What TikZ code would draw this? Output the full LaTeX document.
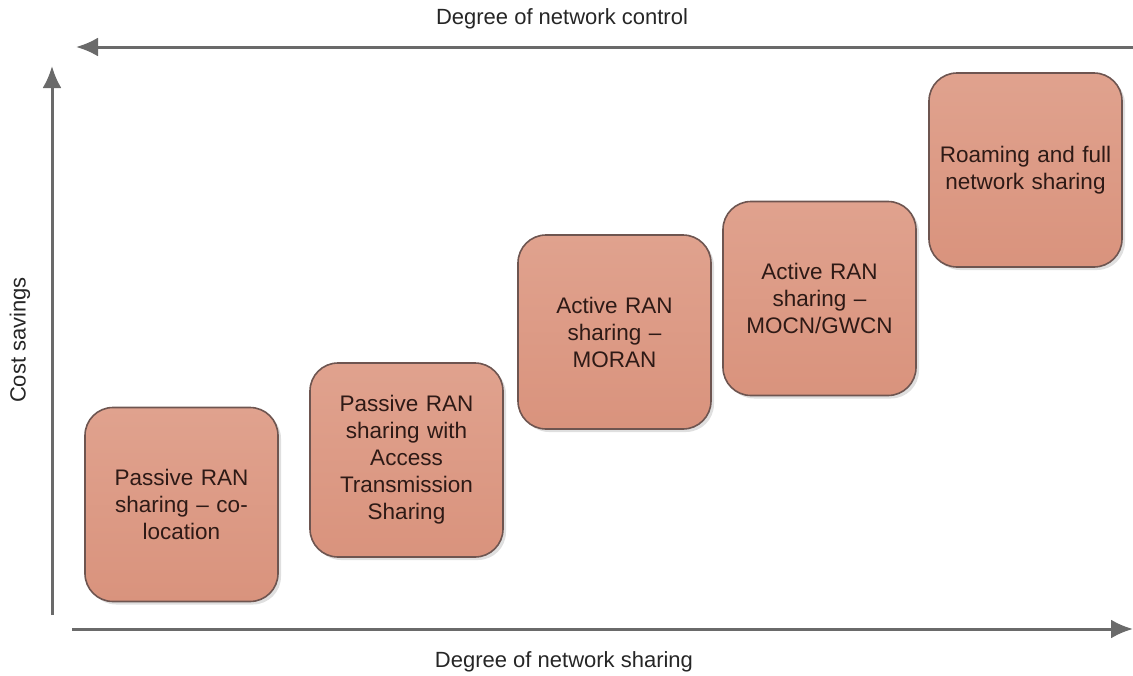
\documentclass[tikz,border=0pt]{standalone}
\usepackage{fontspec}
\setmainfont{Liberation Sans}
\usetikzlibrary{arrows.meta,shadows}
\definecolor{axisgray}{HTML}{6A6A6A}
\definecolor{boxfill}{HTML}{D9937D}
\definecolor{boxtop}{HTML}{E0A28E}
\definecolor{boxedge}{HTML}{6E5550}
\definecolor{boxtext}{HTML}{2E1A16}
\tikzset{
  axis/.style={draw=axisgray,line width=3pt,-{Latex[length=22pt,width=19pt]}},
  axislabel/.style={font=\fontsize{22}{26}\selectfont,text=black!85},
  stage/.style={draw=boxedge,line width=1.6pt,rounded corners=28pt,
    top color=boxtop,bottom color=boxfill,minimum width=193pt,minimum height=194pt,
    text width=180pt,align=center,text=boxtext,font=\fontsize{22.5}{27}\selectfont,
    drop shadow={shadow xshift=3pt,shadow yshift=-3pt,opacity=0.25}}
}
\begin{document}
\begin{tikzpicture}[x=1pt,y=-1pt]
\useasboundingbox (0,0) rectangle (1133,675);
% axes
\coordinate (topR) at (1133,47);
\coordinate (topL) at (76,47);
\draw[axis] (topR) -- (topL);
\coordinate (vB) at (52,615);
\coordinate (vT) at (52,66);
\draw[axis] (vB) -- (vT);
\coordinate (hL) at (72,629);
\coordinate (hR) at (1133,629);
\draw[axis] (hL) -- (hR);
\node[axislabel] (control) at (562,19) {Degree of network control};
\node[axislabel] (sharing) at (564,662) {Degree of network sharing};
\node[axislabel,rotate=90] (cost) at (20,340) {Cost savings};
% stages
\node[stage] (s1) at (181.5,504.5) {Passive RAN\\sharing – co-\\location};
\node[stage] (s2) at (406.5,460) {Passive RAN\\sharing with\\Access\\Transmission\\Sharing};
\node[stage] (s3) at (614.5,332) {Active RAN\\sharing –\\MORAN};
\node[stage] (s4) at (819.5,298.5) {Active RAN\\sharing –\\MOCN/GWCN};
\node[stage] (s5) at (1025.5,170) {Roaming and full\\network sharing};
\end{tikzpicture}
\end{document}
